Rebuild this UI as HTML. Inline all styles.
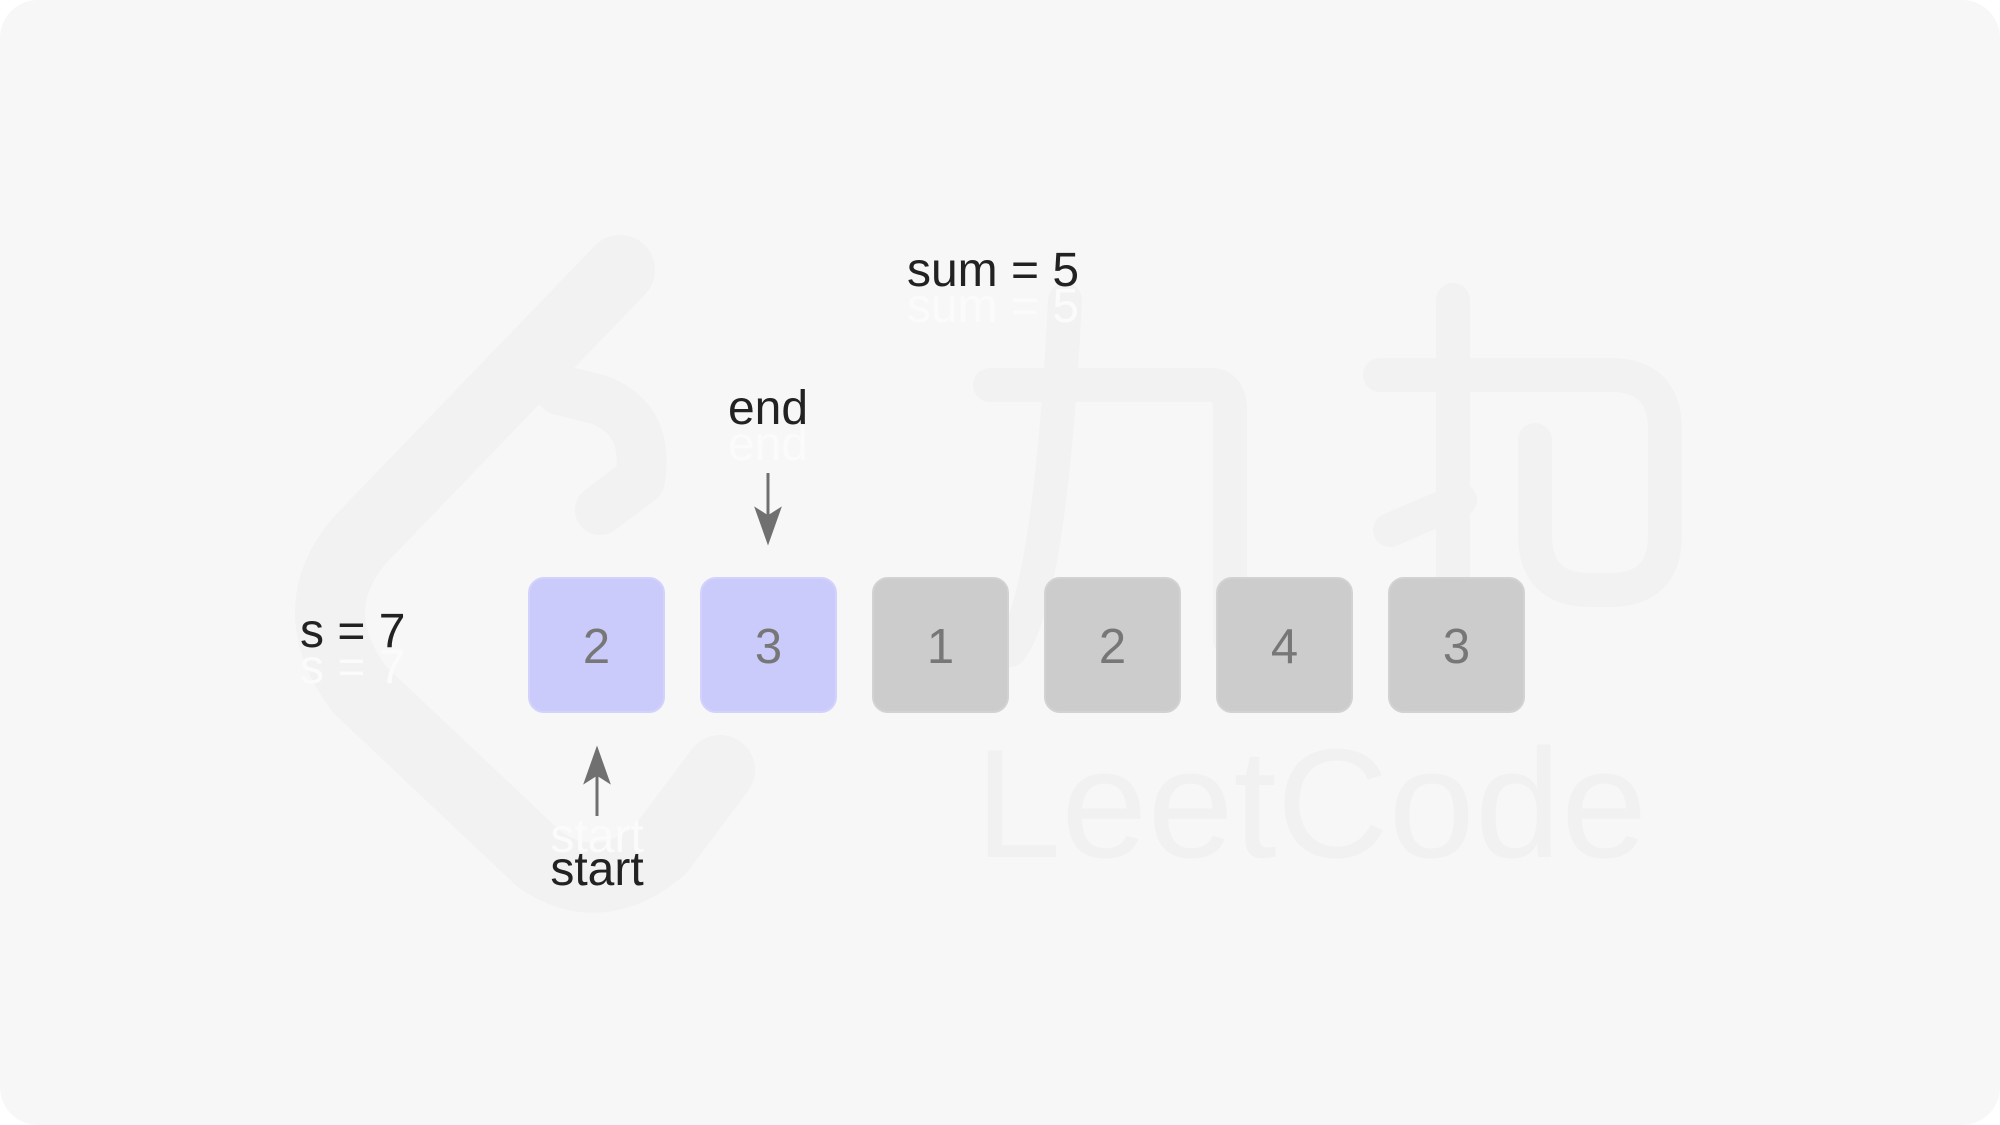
<!DOCTYPE html>
<html><head><meta charset="utf-8"><style>
html,body{margin:0;padding:0;background:#fff;}
#c{position:relative;width:2000px;height:1125px;background:#f7f7f7;border-radius:38px;overflow:hidden;font-family:"Liberation Sans",Arial,sans-serif;}
.t{position:absolute;color:#222;font-size:48px;white-space:nowrap;transform:translateX(-50%);line-height:1;}
.g{color:#fbfbfb;}
.b{position:absolute;top:577px;width:137px;height:136px;border-radius:16px;font-size:49px;color:#777;display:flex;align-items:center;justify-content:center;box-sizing:border-box;padding-top:4px;}
.p{background:#cbcbfb;border:2px solid #d2d2fd;}
.q{background:#cccccc;border:2px solid #d2d2d2;}
</style></head><body><div id="c">
<svg width="2000" height="1125" style="position:absolute;left:0;top:0">
 <g fill="none" stroke="#f2f2f2" stroke-linecap="round" stroke-linejoin="round">
  <path d="M620 270 L360 540 Q300 610 360 690 L540 860 Q600 900 660 850 L720 770" stroke-width="70"/>
  <path d="M600 510 L640 480 Q650 420 600 400 L560 390" stroke-width="50"/>
  <path d="M990 385 H1210 Q1230 385 1230 410 V640" stroke-width="34"/>
  <path d="M1065 300 Q1050 600 1010 650" stroke-width="34"/>
  <path d="M1380 375 H1610 Q1665 375 1665 430 V535 Q1665 590 1610 590 H1590 Q1535 590 1535 535 V440" stroke-width="34"/>
  <path d="M1453 300 V640 Q1453 680 1410 670" stroke-width="34"/>
  <path d="M1390 530 L1460 500" stroke-width="34"/>
 </g>
 <text x="975" y="857" font-family="Liberation Sans, sans-serif" font-size="155" fill="#f1f1f1">LeetCode</text>
 <g stroke="#707070" stroke-width="3" fill="#707070">
  <line x1="768" y1="473" x2="768" y2="520"/>
  <polygon points="757,510 768,541 779,510 768,517"/>
  <line x1="597" y1="816" x2="597" y2="770"/>
  <polygon points="586,781 597,750 608,781 597,774"/>
 </g>
</svg>
<div class="t g" style="left:993px;top:283px">sum = 5</div>
<div class="t" style="left:993px;top:247px">sum = 5</div>
<div class="t g" style="left:768px;top:421px">end</div>
<div class="t" style="left:768px;top:385px">end</div>
<div class="t g" style="left:300px;top:644px;transform:none">s = 7</div>
<div class="t" style="left:300px;top:608px;transform:none">s = 7</div>
<div class="t g" style="left:597px;top:813px">start</div>
<div class="t" style="left:597px;top:846px">start</div>
<div class="b p" style="left:528px">2</div>
<div class="b p" style="left:700px">3</div>
<div class="b q" style="left:872px">1</div>
<div class="b q" style="left:1044px">2</div>
<div class="b q" style="left:1216px">4</div>
<div class="b q" style="left:1388px">3</div>
</div></body></html>
